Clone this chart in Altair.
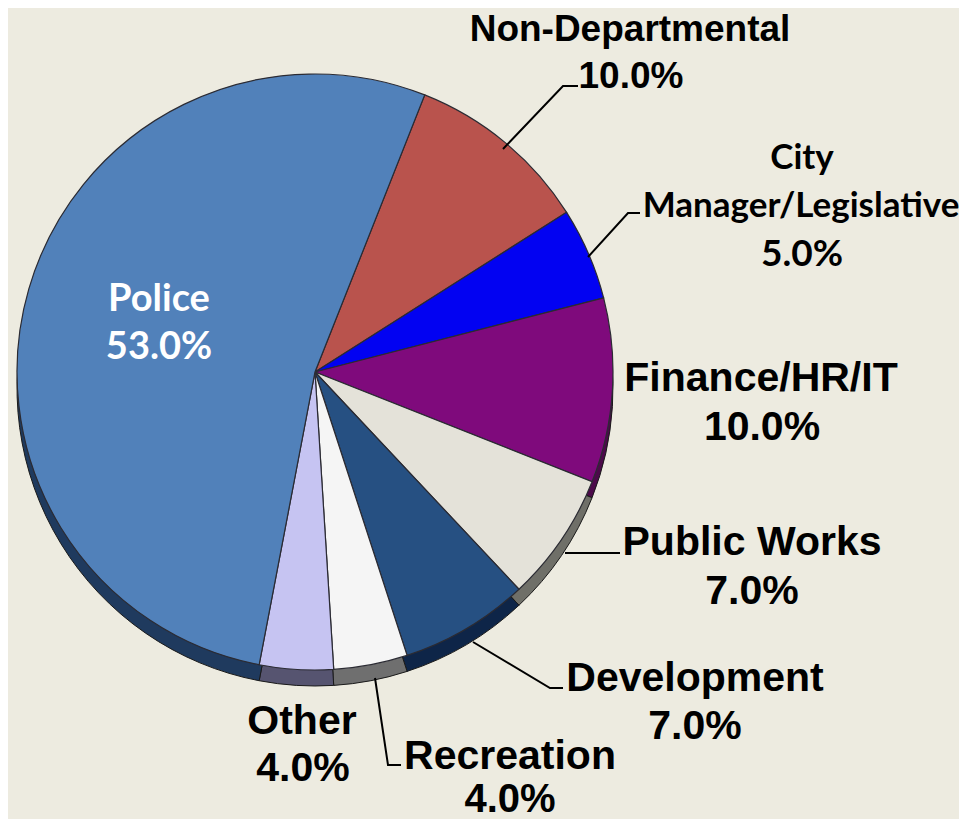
import altair as alt
import pandas as pd

# ---- values
categories = ["Non-Departmental", "City Manager/Legislative", "Finance/HR/IT", "Public Works",
              "Development", "Recreation", "Other", "Police"]
shares = [10.0, 5.0, 10.0, 7.0, 7.0, 4.0, 4.0, 53.0]
face_colors = ["#b9534d", "#0202f2", "#7f0a7c", "#e4e2d9", "#265082", "#f5f5f5", "#c6c4f2", "#5181ba"]
side_colors = ["#6e2f2c", "#020280", "#4c0a4a", "#6f6f68", "#0e2548", "#6f6f6f", "#565470", "#1f3a5e"]

label_lines = ["Non-Departmental", "10.0%", "City", "Manager/Legislative", "5.0%",
               "Finance/HR/IT", "10.0%", "Public Works", "7.0%", "Development", "7.0%",
               "Recreation", "4.0%", "Other", "4.0%", "Police", "53.0%"]
label_x = [630, 631, 802, 801, 802, 761, 762, 752, 752, 695, 695, 510, 510, 302, 303, 159, 159]
label_y = [30, 77, 158, 206, 255, 379, 428, 543, 592, 679, 727, 757, 800, 722, 769, 300, 348]
label_font = ["Liberation Sans"] * 2 + ["Lato"] * 3 + ["Liberation Sans"] * 8 + ["Liberation Sans"] * 2 + ["Lato"] * 2
label_size = [37, 37, 35, 35, 37, 41, 41, 41, 41, 41, 41, 41, 40, 41, 41, 38, 38]
label_color = ["#000000"] * 15 + ["#ffffff"] * 2

leader_id = [0, 0, 0, 1, 1, 1, 2, 2, 3, 3, 3, 4, 4, 4]
leader_x = [503, 563, 578, 588, 628, 640, 565, 620, 473, 550, 563, 375, 388, 401]
leader_y = [149, 86, 86, 257, 213, 213, 553, 553, 642, 688, 688, 678, 765, 765]

# ---- layout
W, H = 951, 811
PIE_X, PIE_Y, PIE_R, DEPTH = 315, 372, 298, 16
START_DEG = 21.6
BACKGROUND = "#edebe0"
rad = 3.141592653589793 / 180

x_scale = alt.Scale(domain=[8, 8 + W], range=[0, W], nice=False)
y_scale = alt.Scale(domain=[8, 8 + H], range=[0, H], nice=False)
theta_scale = alt.Scale(domain=[0, 100], range=[START_DEG * rad, (START_DEG + 360) * rad])

starts, ends, total = [], [], 0.0
for s in shares:
    starts.append(total)
    total += s
    ends.append(total)

pie = pd.DataFrame({"cat": categories, "start": starts, "end": ends,
                    "face": face_colors, "side": side_colors,
                    "cx": PIE_X, "cy": PIE_Y, "cy_low": PIE_Y + DEPTH})
labels = pd.DataFrame({"t": label_lines, "x": label_x, "y": label_y, "font": label_font,
                       "size": label_size, "color": label_color})
leaders = pd.DataFrame({"id": leader_id, "x": leader_x, "y": leader_y, "o": range(len(leader_x))})

X = alt.X("cx:Q", scale=x_scale, axis=None)
side = alt.Chart(pie).mark_arc(outerRadius=PIE_R, stroke="#1a1a1a", strokeWidth=1).encode(
    x=X, y=alt.Y("cy_low:Q", scale=y_scale, axis=None),
    theta=alt.Theta("start:Q", scale=theta_scale), theta2="end:Q",
    fill=alt.Fill("side:N", scale=None))
face = alt.Chart(pie).mark_arc(outerRadius=PIE_R, stroke="#2b2b33", strokeWidth=1.2).encode(
    x=X, y=alt.Y("cy:Q", scale=y_scale, axis=None),
    theta=alt.Theta("start:Q", scale=theta_scale), theta2="end:Q",
    fill=alt.Fill("face:N", scale=None))
lines = alt.Chart(leaders).mark_line(color="#000000", strokeWidth=2).encode(
    x=alt.X("x:Q", scale=x_scale, axis=None), y=alt.Y("y:Q", scale=y_scale, axis=None),
    detail="id:N", order="o:Q")

text_layers = []
for font in ["Liberation Sans", "Lato"]:
    text_layers.append(alt.Chart(labels[labels.font == font]).mark_text(
        font=font, fontWeight="bold", align="center", baseline="middle").encode(
        x=alt.X("x:Q", scale=x_scale, axis=None), y=alt.Y("y:Q", scale=y_scale, axis=None),
        text="t:N", size=alt.Size("size:Q", scale=None, legend=None),
        color=alt.Color("color:N", scale=None)))

chart = alt.layer(side, face, lines, *text_layers).properties(
    width=W, height=H, background=BACKGROUND, padding=0,
    autosize=alt.AutoSizeParams(type="none")
).configure_view(stroke=None)

chart.save("out.html", embed_options={"renderer": "svg", "actions": False})
